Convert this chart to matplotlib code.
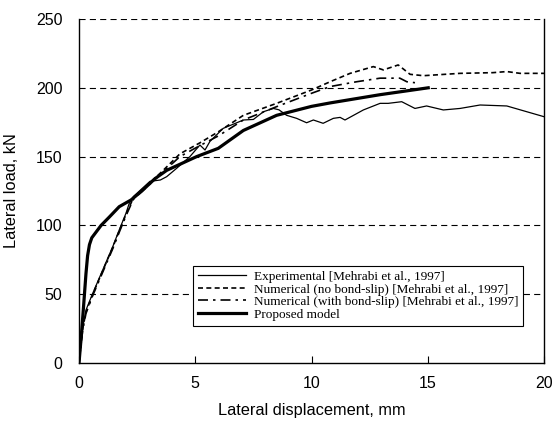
import matplotlib
matplotlib.use("Agg")
import matplotlib.pyplot as plt

# ---- data ----
exp_x = [0, 0.16, 0.3, 0.59, 1.02, 1.45, 1.73, 2.02, 2.16, 2.34, 3.05, 3.5, 3.77, 4.2, 4.77,
         5.2, 5.42, 5.63, 6.2, 7.07, 7.5, 7.93, 8.36, 8.6, 8.93, 9.36, 9.79, 10.08, 10.5,
         10.94, 11.23, 11.44, 12.23, 12.95, 13.3, 13.88, 14.45, 14.95, 15.67, 16.39, 17.25,
         18.4, 20.0]
exp_y = [0, 26, 38.5, 50.6, 67.6, 84.5, 96.7, 108.8, 116, 121, 132, 133, 135.4, 141.5, 150,
         158.4, 154.8, 161, 170.5, 176.6, 177, 182.6, 185, 184, 180, 177.8, 174.6, 176.6, 174.2,
         177.8, 178.5, 176.6, 183.9, 188.7, 188.7, 189.9, 185, 186.8, 183.9, 185, 187.5,
         186.8, 179]

nobs_x = [0, 0.16, 0.3, 0.59, 1.02, 1.45, 1.73, 2.02, 2.34, 3.05, 3.56, 4.34, 5.2, 5.99,
          7.07, 8.5, 10.0, 10.8, 11.66, 12.66, 13.09, 13.73, 14.24, 14.81, 16.39, 17.8,
          18.4, 18.97, 20.0]
nobs_y = [0, 25, 37, 50, 67, 84, 96, 108, 120, 131, 139, 152, 160, 168,
          180, 188.7, 198.4, 204.4, 210.5, 215.4, 213, 216.6, 209.8, 208.8, 210.5, 211,
          211.8, 210.5, 210.5]

wbs_x = [0, 0.16, 0.3, 0.59, 1.02, 1.45, 1.73, 2.02, 2.34, 3.05, 3.56, 4.34, 5.2, 5.99,
         7.07, 8.5, 10.0, 10.8, 11.94, 12.95, 13.8, 14.1, 14.45]
wbs_y = [0, 24, 36, 49, 66, 83, 95, 107, 119, 130, 138, 150, 158, 165,
         176.6, 186.3, 196, 200.9, 204.4, 207, 207, 204.4, 203.7]

prop_x = [0, 0.1, 0.2, 0.3, 0.37, 0.45, 0.55, 0.95, 1.3, 1.73, 2.24, 2.7, 3.27, 3.77,
          5.06, 5.99, 7.07, 8.5, 10.0, 10.8, 12.95, 15.02]
prop_y = [0, 20, 42, 65, 78, 86, 91, 100, 106, 113.6, 118.5, 125, 134, 140,
          150, 156, 169, 180, 186.5, 189, 195, 200]

labels = ["Experimental [Mehrabi et al., 1997]",
          "Numerical (no bond-slip) [Mehrabi et al., 1997]",
          "Numerical (with bond-slip) [Mehrabi et al., 1997]",
          "Proposed model"]
xticks = [0, 5, 10, 15, 20]
yticks = [0, 50, 100, 150, 200, 250]

# ---- figure ----
plt.rcParams['font.family'] = ['Liberation Sans', 'DejaVu Sans']
fig = plt.figure(figsize=(5.53, 4.25), dpi=100)
ax = fig.add_axes([79/553, 1-363/425, 465/553, 344/425])

for yv in yticks[1:]:
    ax.axhline(yv, color='black', lw=0.8, dashes=(5.5, 3.8), zorder=1)

ax.plot(exp_x, exp_y, color='black', lw=0.9, label=labels[0], zorder=3)
ax.plot(nobs_x, nobs_y, color='black', lw=1.2, dashes=(3, 2), label=labels[1], zorder=3)
ax.plot(wbs_x, wbs_y, color='black', lw=1.2, dashes=(6, 3, 1.5, 3), label=labels[2], zorder=3)
ax.plot(prop_x, prop_y, color='black', lw=2.3, label=labels[3], zorder=4)

ax.set_xlim(0, 20)
ax.set_ylim(0, 250)
ax.set_xticks(xticks)
ax.set_yticks(yticks)
ax.tick_params(axis='x', direction='in', length=5, width=0.8, labelsize=11.5, pad=9)
ax.tick_params(axis='y', direction='in', length=0, labelsize=11.5, pad=12)
ax.spines['top'].set_visible(False)
for s in ['left', 'bottom', 'right']:
    ax.spines[s].set_linewidth(1.0)

ax.set_xlabel("Lateral displacement, mm", fontsize=11.8, labelpad=9)
ax.set_ylabel("Lateral load, kN", fontsize=11.8, labelpad=12)

leg = ax.legend(loc='lower left', bbox_to_anchor=(0.245, 0.108), borderaxespad=0,
                prop={'family': 'Liberation Serif', 'size': 9.5}, handlelength=3.6,
                labelspacing=0.02, fancybox=False, framealpha=1, edgecolor='black',
                borderpad=0.4, handletextpad=0.6)
leg.get_frame().set_linewidth(0.8)

fig.savefig("out.png", dpi=100)
